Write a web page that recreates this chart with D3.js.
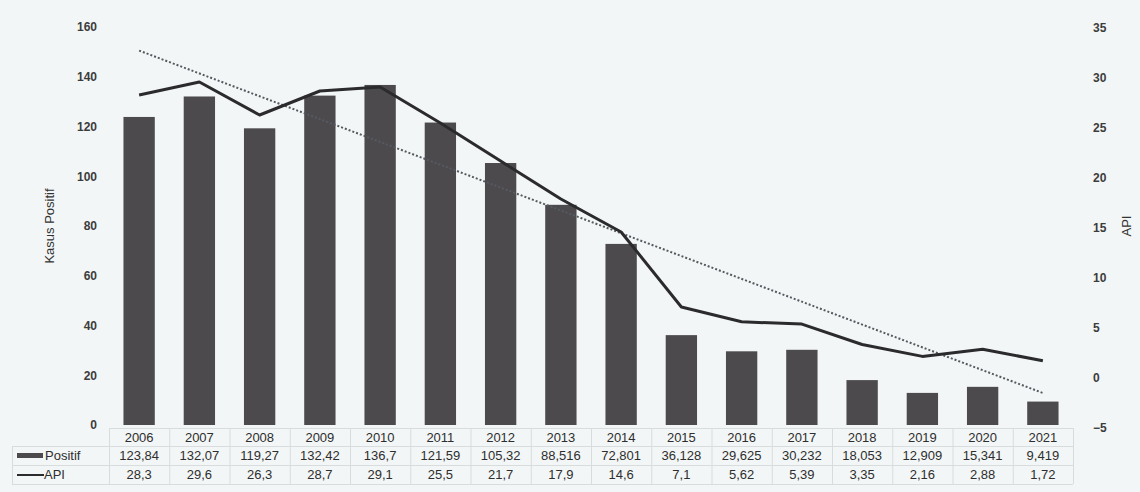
<!DOCTYPE html>
<html>
<head>
<meta charset="utf-8">
<script src="https://cdn.jsdelivr.net/npm/d3@7"></script>
<style>
    body { margin: 0; background: #f3f6f6; }
    svg { font-family: "Liberation Sans", Arial, sans-serif; }
</style>
</head>
<body>
<div id="chart"></div>
<script>
// Data
const years = ['2006', '2007', '2008', '2009', '2010', '2011', '2012', '2013',
    '2014', '2015', '2016', '2017', '2018', '2019', '2020', '2021'];
const positif = [123.84, 132.07, 119.27, 132.42, 136.7, 121.59, 105.32, 88.516,
    72.801, 36.128, 29.625, 30.232, 18.053, 12.909, 15.341, 9.419];
const api = [28.3, 29.6, 26.3, 28.7, 29.1, 25.5, 21.7, 17.9,
    14.6, 7.1, 5.62, 5.39, 3.35, 2.16, 2.88, 1.72];
const leftTicks = [0, 20, 40, 60, 80, 100, 120, 140, 160];
const rightTicks = [-5, 0, 5, 10, 15, 20, 25, 30, 35];

const width = 1140;
const height = 492;
const plot = { left: 109, right: 1073, top: 27, bottom: 425 };

const svg = d3.select('#chart').append('svg')
    .attr('width', width)
    .attr('height', height);

svg.append('rect')
    .attr('width', width)
    .attr('height', height)
    .attr('fill', '#f3f6f6');

// Scales
const xScale = d3.scaleBand()
    .domain(years)
    .range([plot.left, plot.right])
    .paddingInner(0.48)
    .paddingOuter(0.24);

const yLeft = d3.scaleLinear()
    .domain([0, 160])
    .range([plot.bottom, plot.top]);

const yRight = d3.scaleLinear()
    .domain([-5, 35])
    .range([plot.bottom + 3, plot.top + 1]);

const cx = d => xScale(d) + xScale.bandwidth() / 2;

// Axes (no lines, labels only)
const leftAxis = svg.append('g')
    .attr('class', 'axis y-left')
    .attr('transform', `translate(${plot.left - 12},0)`)
    .call(d3.axisLeft(yLeft).tickValues(leftTicks).tickSize(0).tickPadding(0));

const rightAxis = svg.append('g')
    .attr('class', 'axis y-right')
    .attr('transform', `translate(${plot.right + 20},0)`)
    .call(d3.axisRight(yRight).tickValues(rightTicks).tickSize(0).tickPadding(0));

svg.selectAll('.axis .domain').remove();
svg.selectAll('.axis text')
    .attr('fill', '#3c3c3c')
    .style('font-size', '12px')
    .style('font-weight', 'bold');

// Axis titles
svg.append('text')
    .attr('transform', `translate(54,${(plot.top + plot.bottom) / 2}) rotate(-90)`)
    .attr('text-anchor', 'middle')
    .attr('fill', '#333')
    .style('font-size', '13px')
    .text('Kasus Positif');

svg.append('text')
    .attr('transform', `translate(1131,${(plot.top + plot.bottom) / 2}) rotate(-90)`)
    .attr('text-anchor', 'middle')
    .attr('fill', '#333')
    .style('font-size', '13px')
    .text('API');

// Bars
svg.selectAll('rect.bar')
    .data(positif)
    .enter()
    .append('rect')
    .attr('class', 'bar')
    .attr('fill', '#4d4a4e')
    .attr('x', (d, i) => xScale(years[i]))
    .attr('width', xScale.bandwidth())
    .attr('y', d => yLeft(d))
    .attr('height', d => yLeft(0) - yLeft(d));

// Linear trend of API (least squares)
const n = api.length;
const mx = d3.mean(api, (d, i) => i);
const my = d3.mean(api);
const slope = d3.sum(api, (d, i) => (i - mx) * (d - my)) / d3.sum(api, (d, i) => (i - mx) ** 2);
const icpt = my - slope * mx;

svg.append('line')
    .attr('x1', cx(years[0]))
    .attr('x2', cx(years[n - 1]))
    .attr('y1', yRight(icpt))
    .attr('y2', yRight(icpt + slope * (n - 1)))
    .attr('stroke', '#555a60')
    .attr('stroke-width', 2)
    .attr('stroke-dasharray', '2,2');

// API line
const line = d3.line()
    .x((d, i) => cx(years[i]))
    .y(d => yRight(d));

svg.append('path')
    .datum(api)
    .attr('fill', 'none')
    .attr('stroke', '#2b2b2d')
    .attr('stroke-width', 3)
    .attr('stroke-linejoin', 'round')
    .attr('d', line);

// Data table below the plot
const step = xScale.step();
const tableLeft = 12;
const rows = [428, 446, 465, 484];
const grid = svg.append('g').attr('stroke', '#d9dcdc').attr('stroke-width', 1);

rows.forEach((y, i) => {
    grid.append('line')
        .attr('x1', i === 0 ? plot.left : tableLeft)
        .attr('x2', plot.right)
        .attr('y1', y + 0.5)
        .attr('y2', y + 0.5);
});

grid.append('line')
    .attr('x1', tableLeft + 0.5).attr('x2', tableLeft + 0.5)
    .attr('y1', rows[1]).attr('y2', rows[3]);

years.forEach((yr, i) => {
    const x = plot.left + i * step;
    grid.append('line')
        .attr('x1', x + 0.5).attr('x2', x + 0.5)
        .attr('y1', rows[0]).attr('y2', rows[3]);
});
grid.append('line')
    .attr('x1', plot.right + 0.5).attr('x2', plot.right + 0.5)
    .attr('y1', rows[0]).attr('y2', rows[3]);

const fmt = v => String(v).replace('.', ',');
const cellText = (arr, y, f) => svg.append('g')
    .selectAll('text')
    .data(arr)
    .enter()
    .append('text')
    .attr('x', (d, i) => plot.left + i * step + step / 2)
    .attr('y', y)
    .attr('text-anchor', 'middle')
    .attr('fill', '#2e2e2e')
    .style('font-size', '13px')
    .text(f);

cellText(years, rows[0] + 14, d => d);
cellText(positif, rows[1] + 14, fmt);
cellText(api, rows[2] + 14, fmt);

// Legend keys in the table
svg.append('rect')
    .attr('x', 17).attr('y', rows[1] + 7)
    .attr('width', 26).attr('height', 5)
    .attr('fill', '#4d4a4e');
svg.append('text')
    .attr('x', 45).attr('y', rows[1] + 14)
    .attr('fill', '#2e2e2e')
    .style('font-size', '13px')
    .text('Positif');

svg.append('line')
    .attr('x1', 17).attr('x2', 44)
    .attr('y1', rows[2] + 10).attr('y2', rows[2] + 10)
    .attr('stroke', '#2b2b2d')
    .attr('stroke-width', 2);
svg.append('text')
    .attr('x', 44).attr('y', rows[2] + 14)
    .attr('fill', '#2e2e2e')
    .style('font-size', '13px')
    .text('API');
</script>
</body>
</html>
